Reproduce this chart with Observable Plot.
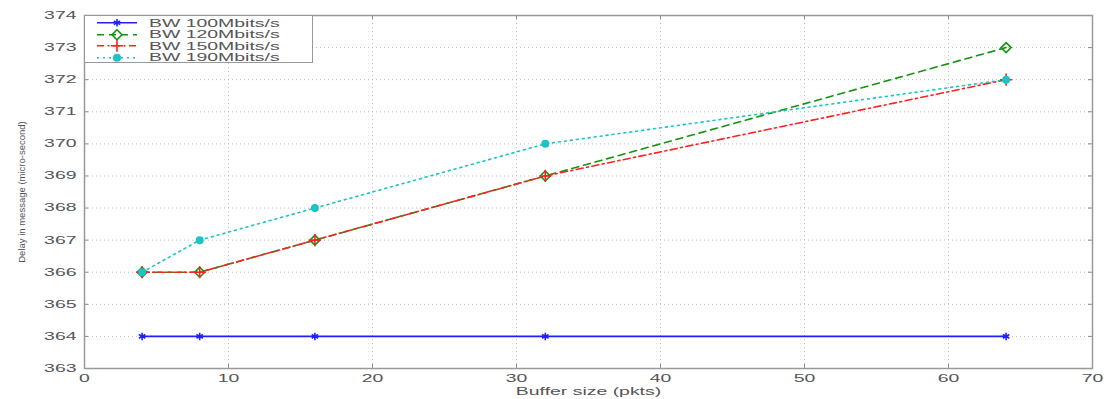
<!DOCTYPE html>
<html>
<head>
<meta charset="utf-8">
<script src="https://cdn.jsdelivr.net/npm/d3@7"></script>
<script src="https://cdn.jsdelivr.net/npm/@observablehq/plot@0.6"></script>
<style>
  body { margin: 0; background: #fff; }
  #wrap { position: relative; width: 1107px; height: 399px; font-family: "Liberation Sans", Arial, sans-serif; }
  #legend { position: absolute; background: #fff; border: 1.5px solid #999; box-sizing: border-box; }
  #legend .row { display: flex; align-items: center; height: 11.5px; font-size: 10.5px; color: #555; white-space: nowrap; }
  #legend .row span { display: inline-block; transform: scaleX(1.85); transform-origin: left center; }
</style>
</head>
<body>
<div id="wrap"></div>
<script>
const bufferSizes = [4, 8, 16, 32, 64];
const seriesNames = ["BW 100Mbits/s", "BW 120Mbits/s", "BW 150Mbits/s", "BW 190Mbits/s"];
const bw100 = [364, 364, 364, 364, 364];
const bw120 = [366, 366, 367, 369, 373];
const bw150 = [366, 366, 367, 369, 372];
const bw190 = [366, 367, 368, 370, 372];
const xTicks = [0, 10, 20, 30, 40, 50, 60, 70];
const yTicks = [363, 364, 365, 366, 367, 368, 369, 370, 371, 372, 373, 374];

const styles = [
  {color: "#1f1fff", dash: null, symbol: "asterisk", fill: "none", r: 3.5},
  {color: "#129412", dash: "7,5", symbol: "diamond2", fill: "none", r: 4.5},
  {color: "#ff2020", dash: "7,3.5,2,3.5", symbol: "plus", fill: "none", r: 4},
  {color: "#1cc4c4", dash: "2,4", symbol: "circle", fill: "#1cc4c4", r: 3.2}
];
const allValues = [bw100, bw120, bw150, bw190];

const W = 1107, H = 399;
const mL = 84, mR = 15, mT = 15, mB = 31;
const STRETCH = 1.85;

const marks = [
  Plot.gridX(xTicks, {stroke: "#bbb", strokeOpacity: 1, strokeDasharray: "1,3"}),
  Plot.gridY(yTicks, {stroke: "#bbb", strokeOpacity: 1, strokeDasharray: "1,3"}),
  Plot.ruleX(xTicks, {y1: 363, y2: 363.12, stroke: "#888"}),
  Plot.ruleX(xTicks, {y1: 374, y2: 373.88, stroke: "#888"}),
  Plot.ruleY(yTicks, {x1: 0, x2: 0.28, stroke: "#888"}),
  Plot.ruleY(yTicks, {x1: 70, x2: 69.72, stroke: "#888"}),
  Plot.frame({stroke: "#999", strokeWidth: 1.5})
];

allValues.forEach((vals, i) => {
  const data = bufferSizes.map((b, j) => ({x: b, y: vals[j]}));
  const s = styles[i];
  marks.push(Plot.line(data, {x: "x", y: "y", stroke: s.color, strokeWidth: 1.6, strokeDasharray: s.dash}));
});
allValues.forEach((vals, i) => {
  const data = bufferSizes.map((b, j) => ({x: b, y: vals[j]}));
  const s = styles[i];
  marks.push(Plot.dot(data, {x: "x", y: "y", stroke: s.color, fill: s.fill, symbol: s.symbol, r: s.r, strokeWidth: 1.6}));
});

const chart = Plot.plot({
  width: W, height: H,
  marginLeft: mL, marginRight: mR, marginTop: mT, marginBottom: mB,
  style: {fontFamily: "Liberation Sans, Arial, sans-serif", fontSize: "10.5px", color: "#555", background: "#fff"},
  x: {domain: [0, 70], ticks: xTicks, tickSize: 0, tickPadding: 6, label: "Buffer size (pkts)", labelAnchor: "center", labelArrow: "none", labelOffset: 26},
  y: {domain: [363, 374], ticks: yTicks, tickSize: 0, tickPadding: 8, label: "Delay in message (micro-second)", labelAnchor: "center", labelArrow: "none", labelOffset: 66},
  marks
});
const wrap = document.getElementById("wrap");
wrap.appendChild(chart);
d3.select(chart).selectAll("[aria-label='y-axis label'] text").style("font-size", "9.5px");

// legend overlay
const legend = document.createElement("div");
legend.id = "legend";
legend.style.left = mL + "px";
legend.style.top = mT + "px";
legend.style.width = "229px";
legend.style.height = "48px";
legend.style.paddingTop = "1px";
seriesNames.forEach((name, i) => {
  const s = styles[i];
  const row = document.createElement("div");
  row.className = "row";
  const sw = d3.create("svg").attr("width", 58).attr("height", 11.5);
  sw.append("line").attr("x1", 12).attr("x2", 52).attr("y1", 5.75).attr("y2", 5.75)
    .attr("stroke", s.color).attr("stroke-width", 1.6).attr("stroke-dasharray", s.dash);
  sw.append("path").attr("d", d3.symbol(
      {asterisk: d3.symbolAsterisk, diamond2: d3.symbolDiamond2, plus: d3.symbolPlus, circle: d3.symbolCircle}[s.symbol],
      Math.PI * s.r * s.r)())
    .attr("transform", "translate(32,5.75)").attr("fill", s.fill).attr("stroke", s.color).attr("stroke-width", 1.6);
  row.appendChild(sw.node());
  const t = document.createElement("span");
  t.textContent = name;
  t.style.marginLeft = "6px";
  row.appendChild(t);
  legend.appendChild(row);
});
wrap.appendChild(legend);

// horizontally stretched text, as in the reference image
requestAnimationFrame(() => {
  d3.select(chart).selectAll("[aria-label='x-axis tick label'] text, [aria-label='y-axis tick label'] text, [aria-label='x-axis label'] text")
    .each(function () {
      const len = this.getComputedTextLength();
      this.setAttribute("textLength", len * STRETCH);
      this.setAttribute("lengthAdjust", "spacingAndGlyphs");
    });
});
</script>
</body>
</html>
